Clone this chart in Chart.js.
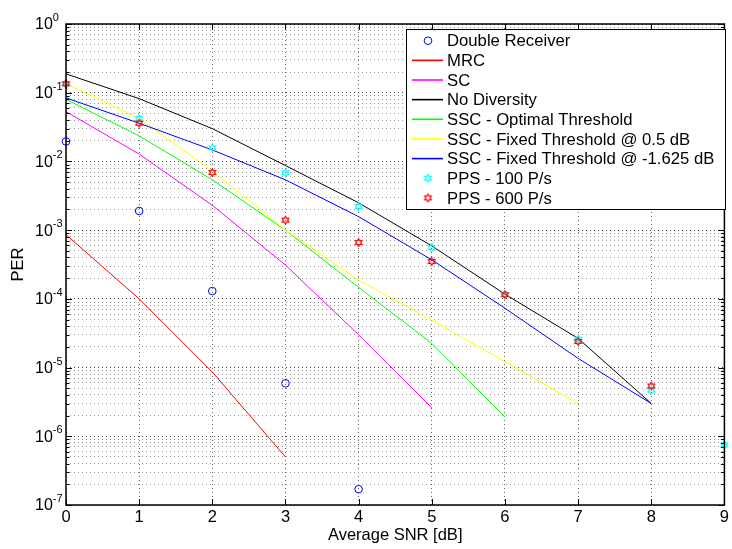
<!DOCTYPE html>
<html>
<head>
<meta charset="utf-8">
<script src="https://cdn.jsdelivr.net/npm/chart.js@4.4.0/dist/chart.umd.min.js"></script>
<style>
  body { margin: 0; background: #fff; }
  canvas { display: block; }
</style>
</head>
<body>
<canvas id="grafico" width="732" height="549"></canvas>
<script>
// values (PER vs average SNR)
const snr = [0, 1, 2, 3, 4, 5, 6, 7, 8, 9]
const doubleReceiver = [1.95e-2, 1.9e-3, 1.3e-4, 5.9e-6, 1.7e-7]
const mrc = [8.6e-4, 1.0e-4, 8.6e-6, 5.0e-7]
const sc = [5.3e-2, 1.28e-2, 2.3e-3, 3.1e-4, 3.0e-5, 2.6e-6]
const noDiversity = [1.88e-1, 8.2e-2, 3.0e-2, 8.7e-3, 2.5e-3, 5.9e-4, 1.17e-4, 2.66e-5, 3.0e-6]
const sscOptimal = [8.0e-2, 2.35e-2, 5.4e-3, 1.0e-3, 1.47e-4, 2.25e-5, 1.9e-6]
const sscFixed05 = [1.35e-1, 4.2e-2, 7.3e-3, 1.0e-3, 1.88e-4, 4.9e-5, 1.22e-5, 3.0e-6]
const sscFixedNeg = [8.4e-2, 3.6e-2, 1.47e-2, 5.4e-3, 1.57e-3, 3.7e-4, 7.3e-5, 1.36e-5, 3.0e-6]
const pps100 = [1.35e-1, 4.2e-2, 1.58e-2, 6.85e-3, 2.2e-3, 5.6e-4, 1.15e-4, 2.6e-5, 4.7e-6, 7.5e-7]
const pps600 = [1.35e-1, 3.6e-2, 6.9e-3, 1.4e-3, 6.6e-4, 3.5e-4, 1.15e-4, 2.4e-5, 5.4e-6]

const xTicks = [0, 1, 2, 3, 4, 5, 6, 7, 8, 9]
const yExponents = [-7, -6, -5, -4, -3, -2, -1, 0]

const FONT = "'Liberation Sans', Arial, Helvetica, sans-serif"

function pts(arr) {
    return arr.map((v, i) => ({ x: snr[i], y: v }))
}

// matlab style hexagram marker
function hexagram(color) {
    let c = document.createElement('canvas')
    c.width = 11
    c.height = 11
    let g = c.getContext('2d')
    let R = 3.8, r = R / Math.sqrt(3)
    g.beginPath()
    for (let k = 0; k < 12; k++) {
        let a = -Math.PI / 2 + k * Math.PI / 6
        let rad = k % 2 === 0 ? R : r
        let px = 5.5 + rad * Math.cos(a), py = 5.5 + rad * Math.sin(a)
        if (k === 0) g.moveTo(px, py)
        else g.lineTo(px, py)
    }
    g.closePath()
    g.strokeStyle = color
    g.lineWidth = 1.2
    g.stroke()
    return c
}

const starCyan = hexagram('#00ffff')
const starRed = hexagram('#ff0000')

function lineSet(label, values, color) {
    return {
        label: label,
        data: pts(values),
        color: color,
        borderColor: color,
        backgroundColor: color,
        borderWidth: 1,
        pointRadius: 0,
        tension: 0,
        fill: false
    }
}

function markerSet(label, values, style, color) {
    return {
        label: label,
        data: pts(values),
        color: color,
        showLine: false,
        pointStyle: style,
        pointRadius: 3.8,
        pointBorderWidth: 1,
        pointBorderColor: color,
        pointBackgroundColor: 'rgba(0,0,0,0)',
        borderColor: color,
        clip: false
    }
}

let datasets = [
    markerSet('Double Receiver', doubleReceiver, 'circle', '#0000ff'),
    lineSet('MRC', mrc, '#ff0000'),
    lineSet('SC', sc, '#ff00ff'),
    lineSet('No Diversity', noDiversity, '#000000'),
    lineSet('SSC - Optimal Threshold', sscOptimal, '#00ff00'),
    lineSet('SSC - Fixed Threshold @ 0.5 dB', sscFixed05, '#ffff00'),
    lineSet('SSC - Fixed Threshold @ -1.625 dB', sscFixedNeg, '#0000ff'),
    markerSet('PPS - 100 P/s', pps100, starCyan, '#00ffff'),
    markerSet('PPS - 600 P/s', pps600, starRed, '#ff0000')
]
// later series on top, like matlab
datasets.forEach((d, i) => { d.order = datasets.length - i })

const decor = {
    id: 'decor',
    afterDraw(chart) {
        let ctx = chart.ctx
        let a = chart.chartArea
        let xs = chart.scales.x, ys = chart.scales.y
        ctx.save()

        // inner tick marks
        ctx.strokeStyle = '#000'
        ctx.lineWidth = 1
        ctx.beginPath()
        xTicks.forEach(t => {
            let px = Math.round(xs.getPixelForValue(t)) + 0.5
            ctx.moveTo(px, a.bottom); ctx.lineTo(px, a.bottom - 6)
            ctx.moveTo(px, a.top); ctx.lineTo(px, a.top + 6)
        })
        ys.ticks.forEach(t => {
            let py = Math.round(ys.getPixelForValue(t.value)) + 0.5
            let len = t.major ? 6 : 3.5
            ctx.moveTo(a.left, py); ctx.lineTo(a.left + len, py)
            ctx.moveTo(a.right, py); ctx.lineTo(a.right - len, py)
        })
        ctx.stroke()

        // axes box
        ctx.lineWidth = 1.5
        ctx.strokeRect(a.left, a.top, a.right - a.left, a.bottom - a.top)

        // y tick labels 10^n
        ctx.fillStyle = '#000'
        ctx.textBaseline = 'middle'
        ctx.textAlign = 'left'
        yExponents.forEach(e => {
            let py = ys.getPixelForValue(Math.pow(10, e))
            ctx.font = '16px ' + FONT
            ctx.fillText('10', 35, py + 1)
            let w = ctx.measureText('10').width
            ctx.font = '11px ' + FONT
            ctx.fillText(String(e), 35 + w, py - 6)
        })

        // legend
        let lx = 406, ly = 29, lw = 319, lh = 180
        ctx.fillStyle = '#fff'
        ctx.fillRect(lx, ly, lw, lh)
        ctx.lineWidth = 1
        ctx.strokeStyle = '#000'
        ctx.strokeRect(lx + 0.5, ly + 0.5, lw, lh)
        ctx.font = '16.7px ' + FONT
        chart.data.datasets.forEach((d, i) => {
            let ry = 40.7 + i * 19.65
            if (d.showLine === false) {
                if (d.pointStyle === 'circle') {
                    ctx.beginPath()
                    ctx.strokeStyle = d.color
                    ctx.lineWidth = 1
                    ctx.arc(428, ry, 3.8, 0, Math.PI * 2)
                    ctx.stroke()
                } else {
                    ctx.drawImage(d.pointStyle, 428 - 5.5, ry - 5.5)
                }
            } else {
                ctx.beginPath()
                ctx.strokeStyle = d.color
                ctx.lineWidth = 1.6
                ctx.moveTo(412, ry)
                ctx.lineTo(443, ry)
                ctx.stroke()
            }
            ctx.fillStyle = '#000'
            ctx.fillText(d.label, 447, ry + 1)
        })
        ctx.restore()
    }
}

let ctx = document.getElementById('grafico').getContext('2d')

let grafico = new Chart(ctx, {
    type: 'line',
    data: { datasets: datasets },
    plugins: [decor],
    options: {
        responsive: false,
        animation: false,
        layout: {
            padding: { top: 24, right: 6, left: 0, bottom: 0 }
        },
        plugins: {
            legend: { display: false },
            tooltip: { enabled: false }
        },
        scales: {
            x: {
                type: 'linear',
                min: 0,
                max: 9,
                afterBuildTicks: function(scale) {
                    scale.ticks = xTicks.map(v => ({ value: v }))
                },
                afterFit: function(scale) {
                    scale.height = 44
                },
                ticks: {
                    color: '#000',
                    padding: 3,
                    font: { family: FONT, size: 16.5 }
                },
                grid: {
                    color: '#666',
                    lineWidth: 1,
                    drawTicks: false
                },
                border: { display: false, dash: [1, 3] },
                title: {
                    display: true,
                    text: 'Average SNR [dB]',
                    color: '#000',
                    font: { family: FONT, size: 16.5 },
                    padding: { top: 0, bottom: 4 }
                }
            },
            y: {
                type: 'logarithmic',
                min: 1e-7,
                max: 1,
                afterBuildTicks: function(scale) {
                    let t = []
                    yExponents.forEach(e => {
                        if (e === 0) {
                            t.push({ value: 1, major: true })
                            return
                        }
                        for (let m = 1; m <= 9; m++) {
                            t.push({ value: m * Math.pow(10, e), major: m === 1 })
                        }
                    })
                    scale.ticks = t
                },
                afterFit: function(scale) {
                    scale.width = 66
                },
                ticks: { display: false },
                grid: {
                    color: function(c) {
                        return c.tick && c.tick.major ? '#444' : '#999'
                    },
                    lineWidth: 1,
                    drawTicks: false
                },
                border: { display: false, dash: [1, 3] },
                title: {
                    display: true,
                    text: 'PER',
                    color: '#000',
                    font: { family: FONT, size: 16.5 },
                    padding: { top: 9, bottom: 0 }
                }
            }
        }
    }
})
</script>
</body>
</html>
